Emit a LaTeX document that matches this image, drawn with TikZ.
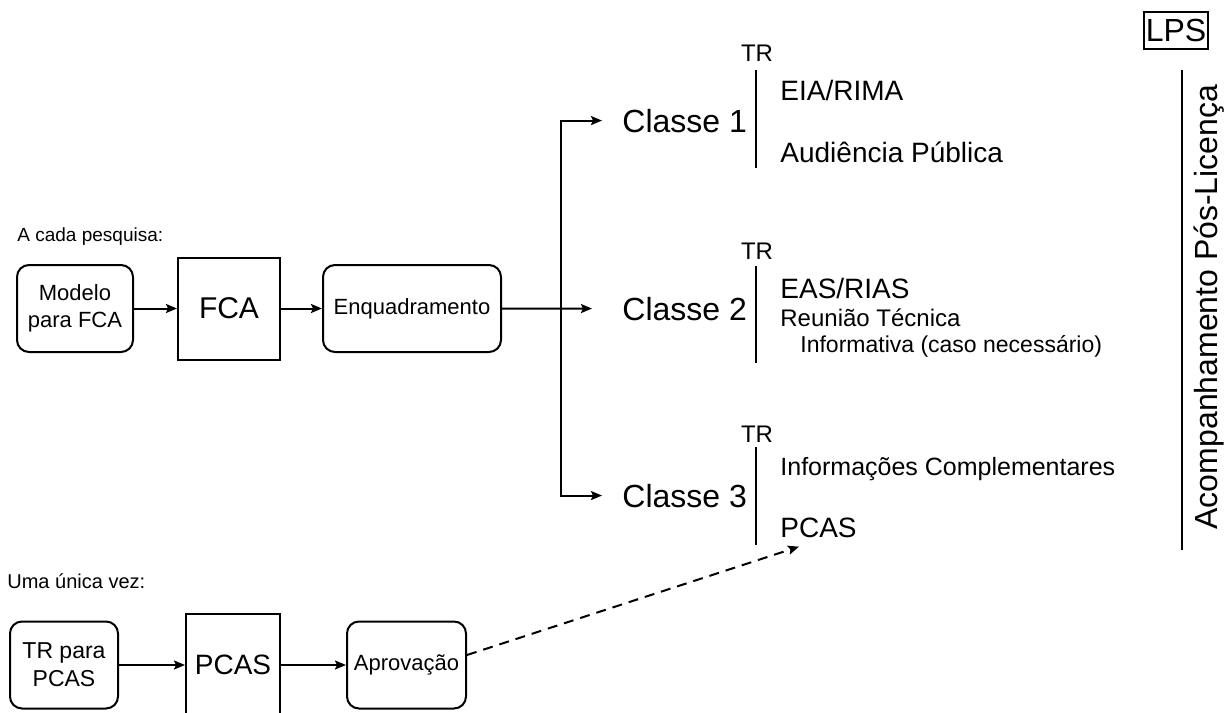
\documentclass[tikz,border=0pt]{standalone}
\usepackage{fontspec}
\setmainfont{Liberation Sans}
\usetikzlibrary{shapes.geometric, arrows.meta}
\usetikzlibrary{positioning}
\tikzstyle{roundbox} = [rectangle, rounded corners=6pt, minimum width=58pt, minimum height=43.5pt, text centered, align=center, draw=black, line width=1pt, font=\fontsize{11}{13.5}\selectfont]
\tikzstyle{squarebox} = [rectangle, minimum width=51pt, minimum height=51pt, text centered, draw=black, line width=1pt, font=\fontsize{15}{18}\selectfont]
\tikzstyle{arrow} = [line width=1pt,->,>={Stealth[length=5.5pt,width=4.5pt,inset=1pt]}]
\tikzstyle{dasharrow} = [line width=1pt,dash pattern=on 5pt off 3.5pt,->,>={Stealth[length=5.5pt,width=4.5pt,inset=1pt]}]
\tikzstyle{bar} = [line width=1pt]
\tikzstyle{classe} = [anchor=base west, inner xsep=10pt, inner ysep=1pt, font=\fontsize{16}{19}\selectfont]
\tikzstyle{tr} = [anchor=base, inner sep=0pt, font=\fontsize{12}{14}\selectfont]
\tikzstyle{item} = [anchor=base west, inner sep=0pt, font=\fontsize{14}{17}\selectfont]
\tikzstyle{subitem} = [anchor=base west, inner sep=0pt, font=\fontsize{12}{14}\selectfont]
\tikzstyle{note} = [anchor=base west, inner sep=0pt, font=\fontsize{9.5}{11}\selectfont]

\begin{document}
\begin{tikzpicture}[x=0.5pt, y=-0.5pt]
        \useasboundingbox (0,0) rectangle (1228,713);

        % a cada pesquisa
        \node (pesquisa) [note] at (17,241) {A cada pesquisa:};
        \node (modelo) [roundbox] at (75,308.5) {Modelo\\para FCA};
        \node (fca) [squarebox, right=21.5pt of modelo] {FCA};
        \node (enq) [roundbox, minimum width=89pt, right=20.5pt of fca] {Enquadramento};

        % uma unica vez
        \node (vez) [note, font=\fontsize{10}{12}\selectfont] at (7,588) {Uma única vez:};
        \node (trpcas) [roundbox, minimum width=54pt, font=\fontsize{11.5}{14}\selectfont] at (64,665) {TR para\\PCAS};
        \node (pcas) [squarebox, minimum width=47pt, font=\fontsize{14}{17}\selectfont, right=33pt of trpcas] {PCAS};
        \node (aprov) [roundbox, minimum width=59.5pt, right=32.5pt of pcas] {Aprovação};

        % classes
        \node (classe1) [classe] at (602,132) {Classe 1};
        \node (classe2) [classe] at (602,320) {Classe 2};
        \node (classe3) [classe] at (602,507) {Classe 3};
        \node (tr1) [tr] at (757,61) {TR};
        \node (tr2) [tr] at (757,259) {TR};
        \node (tr3) [tr] at (757,442) {TR};
        \draw [bar] (756,70) -- (756,168);
        \draw [bar] (756,266) -- (756,363);
        \draw [bar] (756,447) -- (756,545);
        \node (eia) [item] at (780,100) {EIA/RIMA};
        \node (audiencia) [item] at (780,162) {Audiência Pública};
        \node (eas) [item] at (780,298) {EAS/RIAS};
        \node (reuniao) [subitem] at (780,326) {Reunião Técnica};
        \node (informativa) [subitem, font=\fontsize{11.5}{14}\selectfont] at (800,352) {Informativa (caso necessário)};
        \node (info) [item, font=\fontsize{12.5}{15}\selectfont] at (780,475) {Informações Complementares};
        \node (pcas3) [item] at (780,537) {PCAS};

        % pos-licenca
        \node (lps) [draw=black, line width=0.8pt, inner xsep=1pt, minimum height=18.5pt, font=\fontsize{16}{19}\selectfont] at (1176,30.5) {LPS};
        \draw [bar] (1182,70) -- (1182,550);
        \node (acomp) [rotate=90, anchor=base, inner sep=0pt, font=\fontsize{16}{19}\selectfont] at (1217,307) {Acompanhamento Pós-Licença};

        \coordinate (fork) at (561,309);
        \draw [arrow] (modelo) -- (fca);
        \draw [arrow] (fca) -- (enq);
        \draw [arrow, shorten >=5pt] (enq.east) -- (classe2.west);
        \draw [arrow] (fork) |- (classe1);
        \draw [arrow] (fork) |- (classe3);
        \draw [arrow] (trpcas) -- (pcas);
        \draw [arrow] (pcas) -- (aprov);
        \draw [dasharrow] ([yshift=5pt]aprov.east) -- ([xshift=9.5pt,yshift=-4.5pt]pcas3.south west);

        \end{tikzpicture}
\end{document}
